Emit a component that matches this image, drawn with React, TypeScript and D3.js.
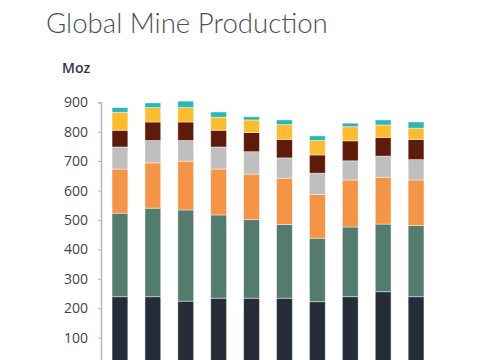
import { useEffect, useRef } from "react";
import * as d3 from "d3";

const years = ["2014", "2015", "2016", "2017", "2018", "2019", "2020", "2021", "2022", "2023"];
const seriesNames = ["Mexico", "Central & South America", "Asia", "North America", "Europe", "Oceania", "Other"];
const mexico = [239, 239, 224, 234, 234, 234, 222, 239, 256, 239];
const southAmerica = [284, 301, 310, 283, 267, 251, 216, 237, 230, 242];
const asia = [150, 154, 166, 156, 155, 157, 149, 160, 159, 155];
const northAmerica = [75, 76, 70, 75, 76, 69, 72, 65, 72, 69];
const europe = [57, 63, 63, 57, 65, 63, 62, 68, 63, 69];
const oceania = [61, 49, 49, 44, 43, 50, 49, 48, 43, 38];
const other = [16, 16, 22, 18, 11, 16, 16, 12, 17, 21];
const colors = ["#262c38", "#537c6f", "#f39447", "#bfbfbf", "#5e1b0b", "#fdbc2f", "#2db6b9"];
const yTicks = [100, 200, 300, 400, 500, 600, 700, 800, 900];

export default function App() {
  const svgRef = useRef<SVGSVGElement>(null);

  useEffect(() => {
    if (!svgRef.current) return;
    const svg = d3.select(svgRef.current);
    svg.selectAll("*").remove();

    const values = [mexico, southAmerica, asia, northAmerica, europe, oceania, other];
    const rows = years.map((yr, i) => {
      const row: Record<string, number | string> = { year: yr };
      seriesNames.forEach((s, k) => (row[s] = values[k][i]));
      return row;
    });
    const stacked = d3.stack<any>().keys(seriesNames)(rows);

    const x = d3.scaleBand().domain(years).range([103.5, 432.5]).paddingInner(0.52).paddingOuter(0.26);
    const y = d3.scaleLinear().domain([0, 900]).range([367, 102.3]);

    svg.append("text")
      .attr("x", 46).attr("y", 33)
      .attr("font-family", "Lato, 'Open Sans', sans-serif")
      .attr("font-weight", 300)
      .attr("font-size", "27.6px")
      .attr("fill", "#4a4f59")
      .text("Global Mine Production");

    svg.append("text")
      .attr("x", 62).attr("y", 73)
      .attr("font-family", "'Open Sans', sans-serif")
      .attr("font-weight", 600)
      .attr("font-size", "14px")
      .attr("fill", "#2f3440")
      .text("Moz");

    const axis = svg.append("g").attr("transform", "translate(101,0)")
      .call(d3.axisLeft(y).tickValues(yTicks).tickSize(3).tickPadding(10).tickFormat(d3.format("d")));
    axis.select(".domain").attr("stroke", "#b5b5b5").attr("stroke-width", 1.5);
    axis.selectAll(".tick line").attr("stroke", "#b5b5b5");
    axis.selectAll(".tick text")
      .attr("font-family", "'Open Sans', sans-serif")
      .attr("font-size", "14px")
      .attr("fill", "#3d4250");

    svg.append("g")
      .selectAll("g")
      .data(stacked)
      .join("g")
      .attr("fill", (_d, i) => colors[i])
      .selectAll("rect")
      .data((d) => d)
      .join("rect")
      .attr("x", (d) => x(d.data.year as string)!)
      .attr("width", x.bandwidth())
      .attr("y", (d) => y(d[1]))
      .attr("height", (d) => y(d[0]) - y(d[1]))
      .attr("stroke", "#ffffff")
      .attr("stroke-opacity", 0.55)
      .attr("stroke-width", 0.8);
  }, []);

  return (
    <svg
      ref={svgRef}
      width={485}
      height={360}
      style={{ position: "absolute", left: 0, top: 0, background: "#ffffff" }}
    />
  );
}
